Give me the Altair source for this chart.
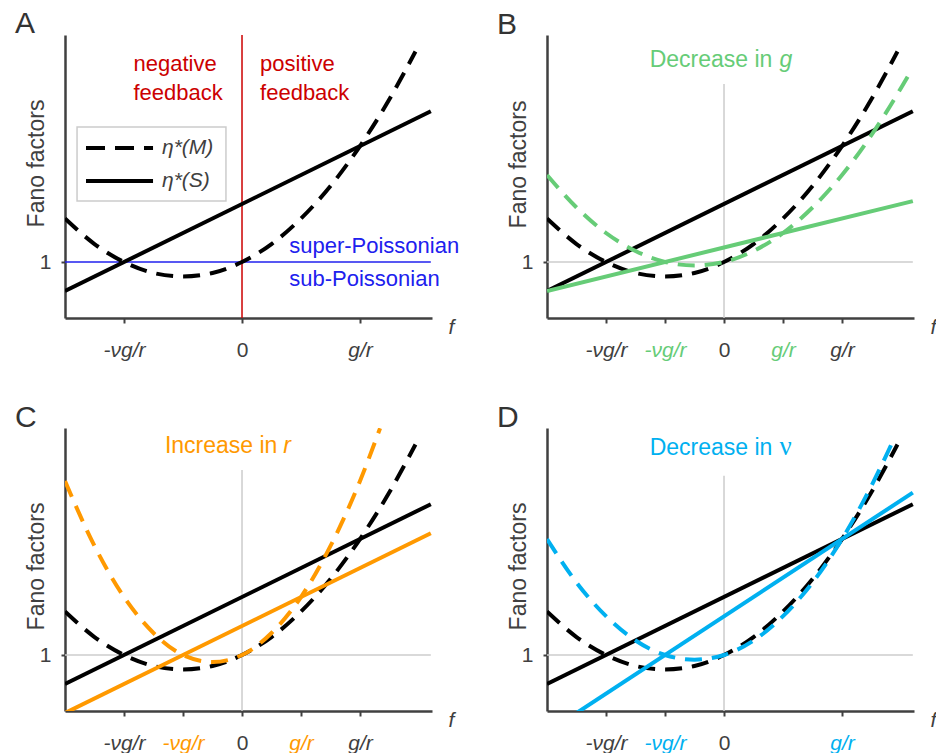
import altair as alt
import pandas as pd

FONT = "Liberation Sans"
GRAY = "#404040"
GREEN = "#66cc77"
ORANGE = "#ff9900"
BLUE = "#00b0f0"
RED = "#cc0000"
PBLUE = "#2020ee"
LIGHT = "#cccccc"

# ---------------- data (f in units of the reference g/r) ----------------
# reference (black) curves, the same in all panels
f_black_M = [-1.5, -1.25, -1.0, -0.75, -0.5, -0.25, 0.0, 0.25, 0.5, 0.75, 1.0, 1.25, 1.47]
black_M = [1.75, 1.31, 1.0, 0.81, 0.75, 0.81, 1.0, 1.31, 1.75, 2.31, 3.0, 3.81, 4.63]
f_black_S = [-1.5, 1.6]
black_S = [0.5, 3.6]

# B: decrease in g
f_green_M = [-1.5, -1.25, -1.0, -0.75, -0.5, -0.25, 0.0, 0.25, 0.5, 0.75, 1.0, 1.25, 1.5, 1.58]
green_M = [2.5, 1.94, 1.5, 1.19, 1.0, 0.94, 1.0, 1.19, 1.5, 1.94, 2.5, 3.19, 4.0, 4.28]
f_green_S = [-1.5, 1.6]
green_S = [0.5, 2.05]

# C: increase in r
f_orange_M = [-1.5, -1.25, -1.0, -0.75, -0.5, -0.25, 0.0, 0.25, 0.5, 0.75, 1.0, 1.17]
orange_M = [4.0, 2.88, 2.0, 1.38, 1.0, 0.88, 1.0, 1.38, 2.0, 2.88, 4.0, 4.91]
f_orange_S = [-1.5, 1.6]
orange_S = [0.0, 3.1]

# D: decrease in nu
f_blue_M = [-1.5, -1.25, -1.0, -0.75, -0.5, -0.25, 0.0, 0.25, 0.5, 0.75, 1.0, 1.25, 1.45]
blue_M = [3.0, 2.25, 1.67, 1.25, 1.0, 0.92, 1.0, 1.25, 1.67, 2.25, 3.0, 3.92, 4.77]
f_blue_S = [-1.25, 1.6]
blue_S = [0.0, 3.8]

# tick values / labels of the f axis
ticks_A = [-1, 0, 1]
labels_A = ["-νg/r", "0", "g/r"]
ticks_BC = [-1, -0.5, 0, 0.5, 1]
labels_BC = ["-νg/r", "-νg/r", "0", "g/r", "g/r"]
ticks_D = [-1, -0.5, 0, 1]
labels_D = ["-νg/r", "-νg/r", "0", "g/r"]

legend_labels = ["η*(M)", "η*(S)"]

# ---------------- layout constants ----------------
XDOM = [-1.5, 1.61]
YDOM = [0.0345, 4.914]
W, H = 367, 283
DASH = [17, 10]
LW = 4


def x_axis(vals, labels, colored_vals, color):
    expr = "".join(f"datum.value == {v} ? '{l}' : " for v, l in zip(vals, labels)) + "''"
    if colored_vals:
        test = " || ".join(f"datum.value == {v}" for v in colored_vals)
        lc = {"condition": {"test": test, "value": color}, "value": GRAY}
    else:
        lc = GRAY
    return alt.Axis(
        values=vals, labelExpr=expr, grid=False,
        labelColor=lc,
        labelFontStyle={"condition": {"test": "datum.value == 0", "value": "normal"}, "value": "italic"},
        labelFont=FONT, labelFontSize=21, labelBaseline="alphabetic", labelPadding=33,
        labelOverlap=False, labelFlush=False,
        tickSize=5, tickWidth=2, tickColor=GRAY, domainColor=GRAY, domainWidth=2.5,
        title="f", titleX=386, titleY=15, titleFont=FONT, titleFontSize=21,
        titleFontStyle="italic", titleFontWeight="normal", titleColor=GRAY,
        titleAlign="center", titleBaseline="alphabetic",
    )


def y_axis(title_y):
    return alt.Axis(
        values=[1], labelExpr="'1'", grid=False,
        labelFont=FONT, labelFontSize=21, labelColor=GRAY, labelPadding=10,
        tickSize=4, tickWidth=2, tickColor=GRAY, domainColor=GRAY, domainWidth=2.5,
        title="Fano factors", titleX=-29, titleY=title_y, titleAngle=270,
        titleAlign="center", titleBaseline="middle", titleFont=FONT, titleFontSize=23,
        titleFontWeight="normal", titleColor=GRAY,
    )


def line_df(fs, ys):
    return pd.DataFrame({"f": fs, "y": ys})


def panel(letter, xax, yax, layers):
    xs = alt.Scale(domain=XDOM, nice=False, zero=False)
    ys = alt.Scale(domain=YDOM, nice=False, zero=False)
    enc_x = alt.X("f:Q", scale=xs, axis=xax)
    enc_y = alt.Y("y:Q", scale=ys, axis=yax)
    charts = []
    for kind, data, props, extra in layers:
        if kind == "line":
            c = alt.Chart(data).mark_line(clip=True, **props).encode(x=enc_x, y=enc_y)
        elif kind == "hrule":
            c = alt.Chart(data).mark_rule(**props).encode(x=enc_x, x2="f2:Q", y=enc_y)
        elif kind == "vrule":
            c = alt.Chart(data).mark_rule(**props).encode(x=enc_x, y=enc_y, y2="y2:Q")
        elif kind == "rect":
            c = alt.Chart(data).mark_rect(**props).encode(x=enc_x, x2="f2:Q", y=enc_y, y2="y2:Q")
        elif kind == "text":
            c = alt.Chart(data).mark_text(**props).encode(x=enc_x, y=enc_y, text="label:N")
        charts.append(c)
    title = alt.TitleParams(
        text=letter, anchor="start", frame="group", dx=-50, dy=31, offset=2, baseline="alphabetic",
        fontSize=30, font=FONT, fontWeight="normal", color="#333333",
    )
    return alt.layer(*charts).properties(width=W, height=H, title=title)


black_dash = ("line", line_df(f_black_M, black_M),
              dict(color="black", strokeWidth=LW, strokeDash=DASH, interpolate="monotone"), None)
black_solid = ("line", line_df(f_black_S, black_S), dict(color="black", strokeWidth=LW), None)


def hline(color):
    return ("hrule", pd.DataFrame({"f": [XDOM[0]], "f2": [1.6], "y": [1.0]}),
            dict(color=color, strokeWidth=1.5), None)


def vline(color, top):
    return ("vrule", pd.DataFrame({"f": [0.0], "y": [YDOM[0]], "y2": [top]}),
            dict(color=color, strokeWidth=1.5), None)


def text(labels, fs, ys, **props):
    base = dict(font=FONT, fontSize=23, align="left", baseline="alphabetic")
    base.update(props)
    return ("text", pd.DataFrame({"label": labels, "f": fs, "y": ys}), base, None)


# ---------------- panel A ----------------
layers_A = [
    hline(PBLUE),
    vline(RED, YDOM[1]),
    black_dash,
    black_solid,
    text(["negative", "feedback", "positive", "feedback"], [-0.92, -0.92, 0.153, 0.153],
         [4.29, 3.79, 4.29, 3.79], color=RED, fontSize=22),
    text(["super-Poissonian", "sub-Poissonian"], [0.40, 0.40], [1.155, 0.586], color=PBLUE, fontSize=22),
    # legend box
    ("rect", pd.DataFrame({"f": [-1.398], "f2": [-0.136], "y": [3.328], "y2": [2.052]}),
     dict(fill="white", stroke=LIGHT, strokeWidth=1.5), None),
    ("line", line_df([-1.322, -0.754], [2.966, 2.966]),
     dict(color="black", strokeWidth=LW, strokeDash=[19, 10]), None),
    ("line", line_df([-1.322, -0.754], [2.397, 2.397]), dict(color="black", strokeWidth=LW), None),
    text(legend_labels, [-0.678, -0.678], [2.966, 2.397], color=GRAY, fontSize=21,
         fontStyle="italic", baseline="middle"),
]
A = panel("A", x_axis(ticks_A, labels_A, [], GRAY), y_axis(128), layers_A)

# ---------------- panel B ----------------
layers_B = [
    hline(LIGHT), vline(LIGHT, 4.07),
    black_dash, black_solid,
    ("line", line_df(f_green_M, green_M),
     dict(color=GREEN, strokeWidth=LW, strokeDash=DASH, interpolate="monotone"), None),
    ("line", line_df(f_green_S, green_S), dict(color=GREEN, strokeWidth=LW), None),
    text(["Decrease in"], [0.41], [4.36], color=GREEN, align="right"),
    text(["g"], [0.47], [4.36], color=GREEN, fontStyle="italic"),
]
B = panel("B", x_axis(ticks_BC, labels_BC, [-0.5, 0.5], GREEN), y_axis(129), layers_B)

# ---------------- panel C ----------------
layers_C = [
    hline(LIGHT), vline(LIGHT, 4.19),
    black_dash, black_solid,
    ("line", line_df(f_orange_M, orange_M),
     dict(color=ORANGE, strokeWidth=LW, strokeDash=DASH, interpolate="monotone"), None),
    ("line", line_df(f_orange_S, orange_S), dict(color=ORANGE, strokeWidth=LW), None),
    text(["Increase in"], [0.30], [4.48], color=ORANGE, align="right"),
    text(["r"], [0.35], [4.48], color=ORANGE, fontStyle="italic"),
]
C = panel("C", x_axis(ticks_BC, labels_BC, [-0.5, 0.5], ORANGE), y_axis(138), layers_C)

# ---------------- panel D ----------------
layers_D = [
    hline(LIGHT), vline(LIGHT, 4.09),
    black_dash, black_solid,
    ("line", line_df(f_blue_M, blue_M),
     dict(color=BLUE, strokeWidth=LW, strokeDash=DASH, interpolate="monotone"), None),
    ("line", line_df(f_blue_S, blue_S), dict(color=BLUE, strokeWidth=LW), None),
    text(["Decrease in"], [0.41], [4.45], color=BLUE, align="right"),
    text(["ν"], [0.47], [4.45], color=BLUE, font="Liberation Serif", fontSize=27),
]
D = panel("D", x_axis(ticks_D, labels_D, [-0.5, 1], BLUE), y_axis(138), layers_D)

chart = alt.concat(
    A, B, C, D, columns=2, spacing={"row": 110, "column": 115}, bounds="flush"
).properties(
    padding={"left": 15, "top": 9, "right": 0, "bottom": 0}
).configure_view(stroke=None)

chart.save("out.html", embed_options={"renderer": "svg", "actions": False})
